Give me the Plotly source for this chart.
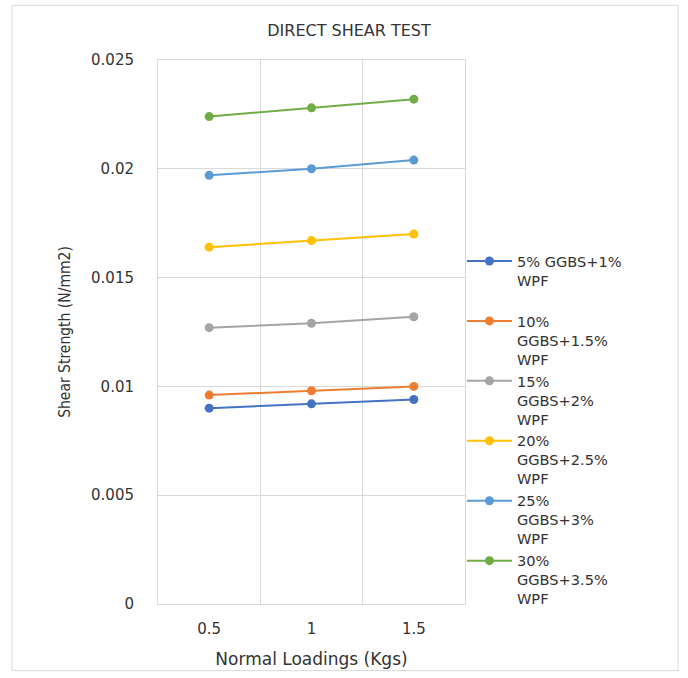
import plotly.graph_objects as go

loads = ["0.5", "1", "1.5"]
series_names = [
    "5% GGBS+1%<br>WPF<br> ",
    "10%<br>GGBS+1.5%<br>WPF",
    "15%<br>GGBS+2%<br>WPF",
    "20%<br>GGBS+2.5%<br>WPF",
    "25%<br>GGBS+3%<br>WPF",
    "30%<br>GGBS+3.5%<br>WPF",
]
s5 = [0.0090, 0.0092, 0.0094]
s10 = [0.0096, 0.0098, 0.0100]
s15 = [0.0127, 0.0129, 0.0132]
s20 = [0.0164, 0.0167, 0.0170]
s25 = [0.0197, 0.0200, 0.0204]
s30 = [0.0224, 0.0228, 0.0232]
series_values = [s5, s10, s15, s20, s25, s30]
colors = ["#4472C4", "#ED7D31", "#A5A5A5", "#FFC000", "#5B9BD5", "#70AD47"]
yticks = [0, 0.005, 0.01, 0.015, 0.02, 0.025]
ytick_text = ["0", "0.005", "0.01", "0.015", "0.02", "0.025"]

fig = go.Figure()
for name, vals, c in zip(series_names, series_values, colors):
    fig.add_trace(go.Scatter(
        x=loads, y=vals, name=name, mode="lines+markers",
        line=dict(color=c, width=2),
        marker=dict(color=c, size=9),
    ))

txt = "#333333"
fig.update_layout(
    width=688, height=678,
    margin=dict(l=158, r=223, t=60, b=71),
    paper_bgcolor="white", plot_bgcolor="white",
    font=dict(family="DejaVu Sans", color=txt),
    title=dict(text="DIRECT SHEAR TEST", x=349/688, xanchor="center",
               y=1-30/678, yanchor="middle",
               font=dict(family="DejaVu Sans", size=16, color=txt)),
    showlegend=True,
    legend=dict(x=0.99, xanchor="left", y=(607-246)/547, yanchor="top",
                valign="top", tracegroupgap=0, itemwidth=45,
                font=dict(family="DejaVu Sans", size=14.6, color=txt),
                bgcolor="rgba(0,0,0,0)"),
    xaxis=dict(type="category", range=[-0.5, 2.5], tickson="boundaries",
               showgrid=True, gridcolor="#D9D9D9", gridwidth=1,
               showline=True, linecolor="#D9D9D9", mirror=True,
               ticks="", ticklabelstandoff=11,
               tickfont=dict(size=15, color=txt),
               title=dict(text="Normal Loadings (Kgs)", standoff=16,
                          font=dict(size=17, color=txt))),
    yaxis=dict(range=[0, 0.025], tickvals=yticks, ticktext=ytick_text,
               showgrid=True, gridcolor="#D9D9D9", gridwidth=1,
               showline=True, linecolor="#D9D9D9", mirror=True,
               zeroline=False, ticks="", ticklabelstandoff=20,
               tickfont=dict(size=15, color=txt),
               title=dict(text="Shear Strength (N/mm2)", standoff=16,
                          font=dict(family="Liberation Sans Narrow, DejaVu Sans Condensed, sans-serif",
                                    size=15.5, color=txt))),
)
fig.add_shape(type="rect", xref="paper", yref="paper",
              x0=(12-158)/307, x1=(678-158)/307,
              y0=(607-674)/547, y1=(607-5)/547,
              line=dict(color="#D9D9D9", width=1), layer="below")
fig.write_html("out.html")
